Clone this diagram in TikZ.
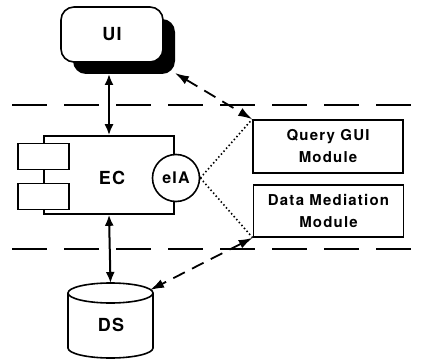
\documentclass[tikz,border=0pt]{standalone}
\usepackage{fontspec}
\setmainfont{TeX Gyre Heros}[LetterSpace=8]
\usetikzlibrary{arrows.meta,shadows}

\tikzset{
  px/.style={x=1pt,y=-1pt},
  boxlabel/.style={font=\bfseries\fontsize{15}{22}\selectfont, align=center},
  module/.style={draw, line width=1.6pt, fill=white, minimum width=150pt,
                 minimum height=53pt, inner sep=0pt, boxlabel},
  part/.style={draw, line width=1.6pt, fill=white, minimum width=51pt,
               minimum height=26pt, inner sep=0pt},
  sep/.style={line width=1.8pt, dash pattern=on 35pt off 17pt},
  bothway/.style={line width=2pt, {Latex[length=11pt,width=9pt]}-{Latex[length=11pt,width=9pt]}},
  link/.style={line width=1.8pt, dash pattern=on 13pt off 8pt,
               {Latex[length=14pt,width=9pt]}-{Latex[length=14pt,width=9pt]}},
  tie/.style={line width=1.6pt, dash pattern=on 1.5pt off 2.4pt}
}

\begin{document}
\begin{tikzpicture}[px]
\useasboundingbox (0,0) rectangle (429,361);

% layer boundaries
\draw[sep] (12,105) -- (412,105);
\draw[sep] (12,249) -- (412,249);

% user interface with its solid shadow
\node[draw, line width=1.6pt, fill=white, rounded corners=13pt,
      minimum width=102pt, minimum height=55pt, inner sep=0pt,
      drop shadow={shadow xshift=12pt, shadow yshift=-12pt, fill=black, opacity=1},
      font=\bfseries\fontsize{18}{20}\selectfont] (ui) at (112,34.5) {UI};
\coordinate (uibase) at (109,74);
\coordinate (uicorner) at (175,73);

% engine component
\node[draw, line width=1.6pt, fill=white, minimum width=130pt, minimum height=78pt,
      inner sep=0pt] (ec) at (109,175) {};
\node[font=\bfseries\fontsize{18}{20}\selectfont] (eclabel) at (112,178) {EC};
\node[part] (p1) at (43.5,156.5) {};
\node[part] (p2) at (43.5,196.5) {};
\node[draw, circle, line width=1.6pt, fill=white, minimum size=47pt, inner sep=0pt,
      font=\bfseries\fontsize{16}{18}\selectfont] (eia) at (176,178) {eIA};

% modules on the right
\node[module] (qgui) at (328,146.5) {Query GUI\\Module};
\node[module, minimum height=52pt] (dmm) at (328.5,211) {Data Mediation\\Module};

% data store cylinder
\coordinate (dstop) at (110.5,283);
\coordinate (dsrim) at (150,290);
\draw[line width=1.6pt, fill=white] (68,293) -- (68,348)
  arc[start angle=180, end angle=360, x radius=42.5pt, y radius=10pt] -- (153,293);
\draw[line width=1.6pt] (110.5,293) ellipse [x radius=42.5pt, y radius=10pt];
\node[font=\bfseries\fontsize{18}{20}\selectfont] (ds) at (111,325) {DS};

% connectors
\draw[bothway] (uibase) -- (ec.north);
\draw[bothway] (ec.south) -- (dstop);
\draw[link] (uicorner) -- (qgui.north west);
\draw[link] (dmm.south west) -- (dsrim);
\draw[tie] (eia.east) -- (qgui.north west);
\draw[tie] (eia.east) -- (dmm.south west);
\end{tikzpicture}
\end{document}
